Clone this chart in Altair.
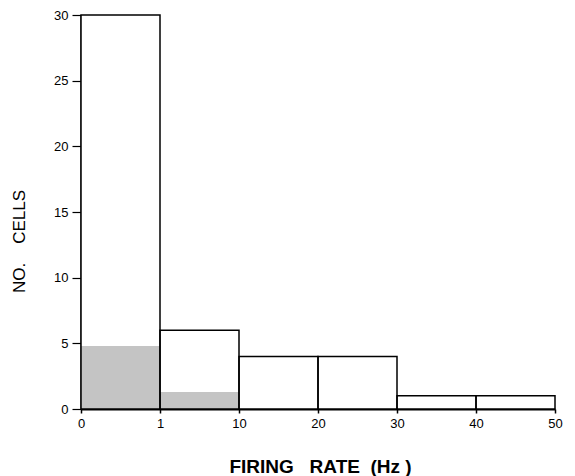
import altair as alt
import pandas as pd

tick_labels = ["0", "1", "10", "20", "30", "40", "50"]
counts = [30, 6, 4, 4, 1, 1]
shaded = [4.8, 1.3, 0, 0, 0, 0]

df = pd.DataFrame({
    "lo": list(range(len(counts))),
    "hi": [i + 1 for i in range(len(counts))],
    "count": counts,
    "shaded": shaded,
    "zero": [0] * len(counts),
})

FONT = "Liberation Sans"
NB = "\u00a0"
x_title = "FIRING" + NB * 3 + "RATE" + NB * 2 + "(Hz" + NB + ")"
y_title = "NO." + NB * 4 + "CELLS"
label_expr = "[" + ",".join("'%s'" % t for t in tick_labels) + "][datum.value]"

x_scale = alt.Scale(domain=[0, len(counts)], nice=False, zero=False)
y_scale = alt.Scale(domain=[0, 30], nice=False)

x_axis = alt.Axis(
    values=list(range(len(tick_labels))), labelExpr=label_expr,
    title=x_title, titleFont=FONT, titleFontSize=19, titleFontWeight="bold",
    titleX=239, titleY=57, titleAlign="center", titleBaseline="middle", titleColor="black",
    labelFont=FONT, labelFontSize=13, labelColor="black", labelPadding=4,
    tickSize=4, tickColor="black", tickWidth=1.5,
    domainColor="black", domainWidth=2, grid=False, labelFlush=False,
)
y_axis = alt.Axis(
    values=[0, 5, 10, 15, 20, 25, 30],
    title=y_title, titleFont=FONT, titleFontSize=17, titleFontWeight="normal",
    titleAngle=-90, titleX=-62, titleY=226, titleBaseline="middle", titleAlign="center",
    titleColor="black",
    labelFont=FONT, labelFontSize=13, labelColor="black", labelPadding=4,
    tickSize=9, tickColor="black", tickWidth=1.2,
    domainColor="black", domainWidth=2, grid=False,
)

base = alt.Chart(df)

fill_bars = base.mark_bar(color="white").encode(
    x=alt.X("lo:Q", scale=x_scale, axis=x_axis),
    x2="hi:Q",
    y=alt.Y("count:Q", scale=y_scale, axis=y_axis),
    y2="zero:Q",
)

shade_bars = base.transform_filter("datum.shaded > 0").mark_bar(color="#c4c4c4", opacity=1).encode(
    x=alt.X("lo:Q", scale=x_scale),
    x2="hi:Q",
    y=alt.Y("shaded:Q", scale=y_scale),
    y2="zero:Q",
)

outline_bars = base.mark_bar(filled=False, stroke="black", strokeWidth=1.5).encode(
    x=alt.X("lo:Q", scale=x_scale),
    x2="hi:Q",
    y=alt.Y("count:Q", scale=y_scale),
    y2="zero:Q",
)

chart = alt.layer(fill_bars, shade_bars, outline_bars).properties(
    width=474, height=394,
    autosize=alt.AutoSizeParams(type="none"),
    padding={"left": 73, "top": 7, "right": 12, "bottom": 70},
    background="white",
).configure_view(stroke=None)

chart.save("out.html", embed_options={"renderer": "svg", "actions": False})
